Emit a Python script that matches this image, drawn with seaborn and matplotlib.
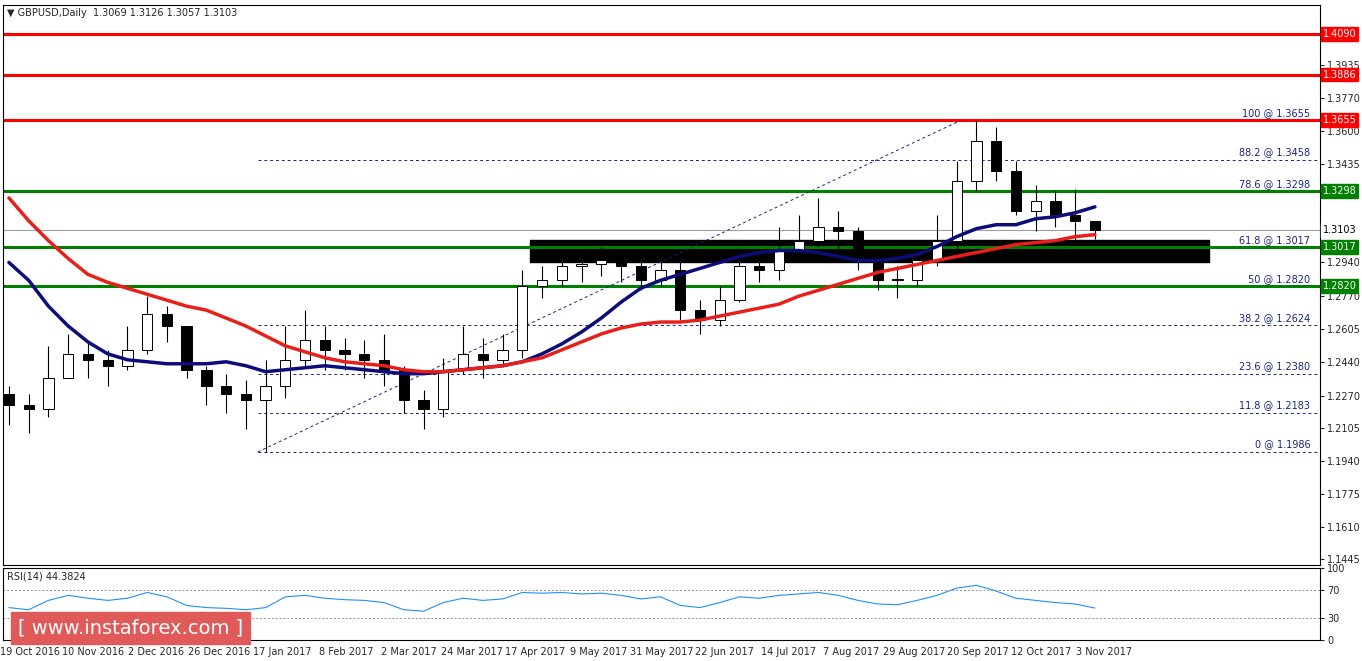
import matplotlib
matplotlib.use("Agg")
import matplotlib.pyplot as plt
import seaborn as sns
import numpy as np
import pandas as pd

sns.set_style("white")
plt.rcParams['font.family'] = ['DejaVu Sans']

# weekly candles (close, high, low), week index 0..55
closes = [1.222,1.220,1.236,1.248,1.245,1.242,1.250,1.268,1.262,1.240,1.232,1.228,1.225,1.232,
          1.245,1.255,1.250,1.248,1.245,1.240,1.225,1.220,1.240,1.248,1.245,1.250,1.282,1.285,
          1.292,1.293,1.295,1.292,1.285,1.290,1.270,1.265,1.275,1.292,1.290,1.300,1.305,1.312,
          1.310,1.295,1.285,1.285,1.295,1.305,1.335,1.355,1.340,1.320,1.325,1.318,1.315,1.3103]
first_open = 1.228
highs = [1.232,1.228,1.252,1.258,1.254,1.250,1.262,1.277,1.272,1.262,1.242,1.238,1.235,1.245,
         1.262,1.270,1.262,1.256,1.255,1.258,1.242,1.230,1.246,1.262,1.256,1.258,1.290,1.292,
         1.298,1.300,1.302,1.300,1.296,1.298,1.295,1.275,1.282,1.297,1.300,1.312,1.318,1.3265,
         1.320,1.312,1.298,1.292,1.300,1.318,1.345,1.3655,1.362,1.345,1.333,1.330,1.331,1.3126]
lows = [1.212,1.208,1.216,1.238,1.236,1.232,1.240,1.248,1.254,1.236,1.222,1.218,1.210,1.1986,
        1.226,1.242,1.240,1.240,1.236,1.232,1.218,1.210,1.216,1.238,1.236,1.242,1.246,1.276,
        1.282,1.284,1.287,1.284,1.280,1.282,1.265,1.258,1.262,1.274,1.284,1.285,1.298,1.302,
        1.300,1.290,1.280,1.276,1.282,1.292,1.300,1.330,1.335,1.318,1.310,1.312,1.305,1.3057]
ma_blue = [1.294,1.285,1.272,1.262,1.254,1.248,1.245,1.244,1.243,1.243,1.243,1.244,1.242,1.239,
           1.240,1.241,1.242,1.241,1.240,1.239,1.238,1.238,1.239,1.240,1.241,1.242,1.244,1.248,
           1.253,1.259,1.266,1.274,1.281,1.285,1.288,1.291,1.294,1.297,1.299,1.300,1.300,1.299,
           1.297,1.295,1.295,1.296,1.298,1.302,1.307,1.311,1.313,1.313,1.316,1.317,1.319,1.322]
ma_red = [1.3265,1.315,1.305,1.296,1.288,1.284,1.281,1.278,1.275,1.272,1.270,1.266,1.262,1.257,
          1.252,1.249,1.246,1.244,1.243,1.242,1.240,1.239,1.239,1.240,1.241,1.242,1.244,1.246,
          1.250,1.254,1.258,1.261,1.263,1.264,1.264,1.265,1.267,1.269,1.271,1.273,1.277,1.280,
          1.283,1.286,1.289,1.291,1.293,1.295,1.297,1.299,1.301,1.303,1.304,1.305,1.307,1.308]
rsi = [45,42,55,62,58,55,58,66,60,48,45,44,42,45,60,62,58,56,55,52,42,40,52,58,55,57,66,65,
       66,64,65,62,57,60,48,45,52,60,58,62,64,66,62,55,50,49,55,62,72,76,68,58,55,52,50,44.4]

red_levels = [1.4090, 1.3886, 1.3655]
green_levels = [1.3298, 1.3017, 1.2820]
current = 1.3103
fib_pct = ["100", "88.2", "78.6", "61.8", "50", "38.2", "23.6", "11.8", "0"]
fib_vals = [1.3655, 1.3458, 1.3298, 1.3017, 1.2820, 1.2624, 1.2380, 1.2183, 1.1986]
date_labels = ["19 Oct 2016","10 Nov 2016","2 Dec 2016","26 Dec 2016","17 Jan 2017","8 Feb 2017",
               "2 Mar 2017","24 Mar 2017","17 Apr 2017","9 May 2017","31 May 2017","22 Jun 2017",
               "14 Jul 2017","7 Aug 2017","29 Aug 2017","20 Sep 2017","12 Oct 2017","3 Nov 2017"]
price_ticks = [1.4100,1.3935,1.3770,1.3600,1.3435,1.3270,1.3100,1.2940,1.2770,1.2605,1.2440,
               1.2270,1.2105,1.1940,1.1775,1.1610,1.1445]

opens = [first_open] + closes[:-1]
n = len(closes)
days = np.arange(n) * 5.0 + 1.0
df = pd.DataFrame({"d": days, "blue": ma_blue, "red": ma_red, "rsi": rsi})

fig = plt.figure(figsize=(13.62, 6.61), dpi=100)
ax = fig.add_axes([3/1362, 96/661, 1317/1362, 560/661])
ax2 = fig.add_axes([3/1362, 21/661, 1317/1362, 72/661])
XMIN, XMAX = -0.5, 333
YMIN, YMAX = 1.1417, 1.4236

ax.fill_between([133, 305], 1.2942, 1.3053, color="black", zorder=1)

for lv in red_levels:
    ax.axhline(lv, color="#ff0000", lw=2.2, zorder=2)
for lv in green_levels:
    ax.axhline(lv, color="#008000", lw=2.2, zorder=2)
ax.axhline(current, color="#a0a0a0", lw=0.8, zorder=2)

for p, v in zip(fib_pct, fib_vals):
    if p not in ("100", "78.6", "61.8", "50"):
        ax.plot([64, XMAX], [v, v], ls=(0, (3, 3)), color="#1a237e", lw=0.7, zorder=2)
    ax.text(330.5, v + 0.0012, f"{p} @ {v:.4f}", ha="right", va="bottom", fontsize=7, color="#1a237e")
ax.plot([64, 242], [1.1986, 1.3655], ls=(0, (3, 3)), color="#1a237e", lw=0.7)

for d, o, c, h, l in zip(days, opens, closes, highs, lows):
    ax.vlines(d, l, h, color="black", lw=0.8, zorder=3)
    up = c >= o
    ax.bar(d, abs(c - o) if abs(c - o) > 0.0005 else 0.0005, bottom=min(o, c), width=2.6,
           color="white" if up else "black", edgecolor="black", lw=0.7, zorder=4)

sns.lineplot(data=df, x="d", y="blue", ax=ax, color="#0d0d7a", lw=2.5, zorder=5)
sns.lineplot(data=df, x="d", y="red", ax=ax, color="#e8201c", lw=2.5, zorder=5)

tags = red_levels + green_levels + [current]
shown_ticks = [t for t in price_ticks if min(abs(t - g) for g in tags) > 0.004]

ax.set_xlim(XMIN, XMAX)
ax.set_ylim(YMIN, YMAX)
ax.yaxis.tick_right()
ax.set_yticks(shown_ticks)
ax.set_yticklabels([f"{t:.4f}" for t in shown_ticks], fontsize=7)
ax.tick_params(axis="y", length=3, pad=2)
ax.set_xticks([])
ax.set_xlabel(""); ax.set_ylabel("")
for s in ax.spines.values():
    s.set_color("black"); s.set_linewidth(0.8)

def tag(axh, y, txt, fc, tc="white"):
    axh.text(1.002, y, txt, transform=axh.get_yaxis_transform(), fontsize=7, color=tc,
             va="center", ha="left", bbox=dict(boxstyle="square,pad=0.2", fc=fc, ec=fc), zorder=10)
for lv in red_levels:
    tag(ax, lv, f"{lv:.4f}", "#ff0000")
for lv in green_levels:
    tag(ax, lv, f"{lv:.4f}", "#008000")
tag(ax, current, f"{current:.4f}", "white", "black")

ax.text(0.003, 0.995, "▼ GBPUSD,Daily  1.3069 1.3126 1.3057 1.3103", transform=ax.transAxes,
        fontsize=7, va="top", ha="left")

sns.lineplot(data=df, x="d", y="rsi", ax=ax2, color="#1e90ff", lw=0.8)
for lv in (30, 70):
    ax2.axhline(lv, color="#909090", ls=(0, (2, 2)), lw=0.7)
ax2.set_xlim(XMIN, XMAX)
ax2.set_ylim(0, 100)
ax2.yaxis.tick_right()
ax2.set_yticks([0, 30, 70, 100])
ax2.set_yticklabels(["0", "30", "70", "100"], fontsize=7)
ax2.tick_params(axis="y", length=3, pad=2)
ticks_d = [6.3 + 16 * k for k in range(len(date_labels))]
ax2.set_xticks(ticks_d)
ax2.set_xticklabels(date_labels, fontsize=7)
ax2.tick_params(axis="x", length=3, pad=2)
ax2.set_xlabel(""); ax2.set_ylabel("")
for s in ax2.spines.values():
    s.set_color("black"); s.set_linewidth(0.8)
ax2.text(0.003, 0.95, "RSI(14) 44.3824", transform=ax2.transAxes, fontsize=7, va="top")

fig.text(18/1362, 1 - 628/661, "[ www.instaforex.com ]", fontsize=14, color="white",
         va="center", ha="left",
         bbox=dict(boxstyle="square,pad=0.35", fc="#e05a5a", ec="#e05a5a"))

fig.savefig("out.png", dpi=100)
